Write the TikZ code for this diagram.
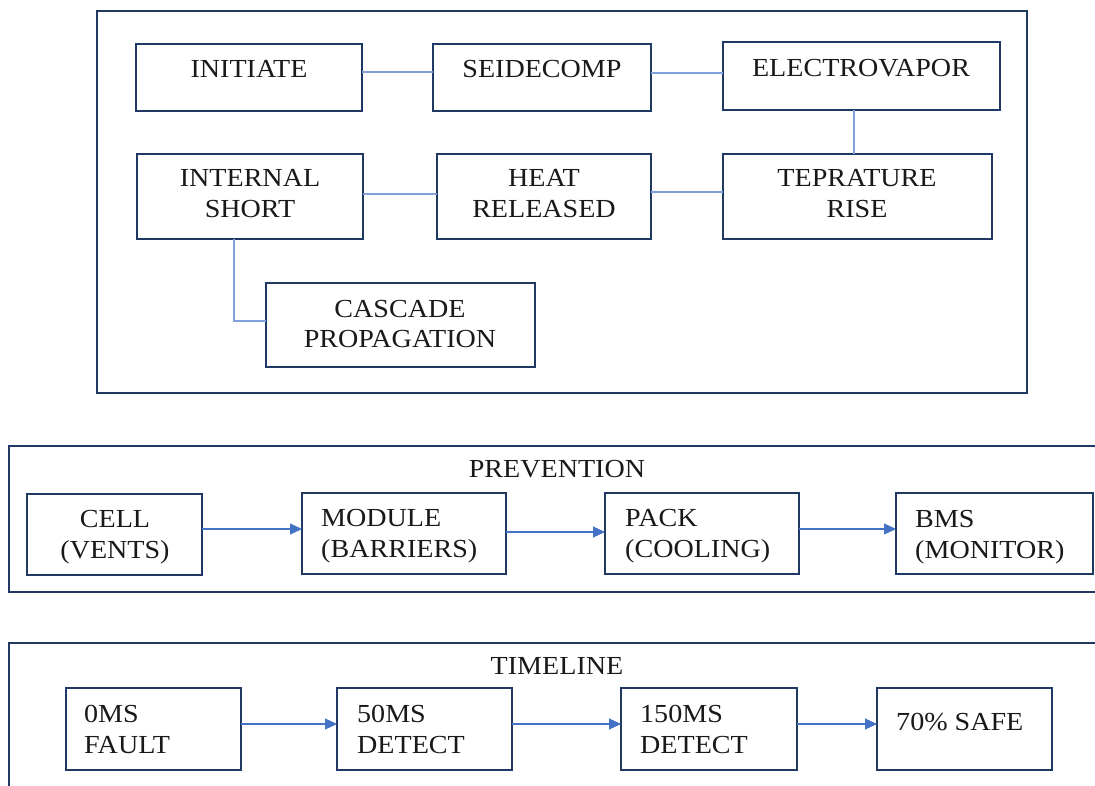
\documentclass[tikz,border=0pt]{standalone}
\usepackage{fontspec}
\setmainfont{Liberation Serif}[FakeStretch=1.08]
\usetikzlibrary{arrows.meta}
\definecolor{navy}{HTML}{1F3864}
\definecolor{link}{HTML}{4472C4}
\definecolor{linklt}{HTML}{7FA0DC}
\tikzset{
 box/.style={draw=navy, line width=2.8pt, rectangle, inner sep=0pt, outer sep=0pt},
 frame/.style={draw=navy, line width=2.8pt},
 txt/.style={font=\fontsize{26}{31}\selectfont, inner sep=0pt, text=black!90},
 conn/.style={draw=linklt, line width=1.2pt},
 arr/.style={draw=link, line width=1.2pt, -{Triangle[length=12pt,width=11pt]}},
}
\newcommand\bx[5]{\node[box, minimum width={#4-#2}, minimum height={#5-#3}] (#1) at ({(#2+#4)/2},{(#3+#5)/2}) {};}
\begin{document}
\begin{tikzpicture}[x=1pt,y=-1pt]
\fill[white] (0,0) rectangle (1095,786);
\useasboundingbox (0,0) rectangle (1095,786);
% top group
\bx{top}{97}{11}{1027}{393}
\bx{ini}{136}{44}{362}{111}
\bx{sei}{433}{44}{651}{111}
\bx{ele}{723}{42}{1000}{110}
\bx{int}{137}{154}{363}{239}
\bx{heat}{437}{154}{651}{239}
\bx{tep}{723}{154}{992}{239}
\bx{cas}{266}{283}{535}{367}
\node[txt, anchor=base] (iniT) at (249,78) {INITIATE};
\node[txt, anchor=base] (seiT) at (542,78) {SEIDECOMP};
\node[txt, anchor=base] (eleT) at (861,77) {ELECTROVAPOR};
\node[txt, anchor=base, align=center] (intT) at (250,218) {INTERNAL\\SHORT};
\node[txt, anchor=base, align=center] (heatT) at (544,218) {HEAT\\RELEASED};
\node[txt, anchor=base, align=center] (tepT) at (857,218) {TEPRATURE\\RISE};
\node[txt, anchor=base, align=center] (casT) at (400,348) {CASCADE\\PROPAGATION};
\draw[conn] (ini.east |- 0,72) -- (sei.west |- 0,72);
\draw[conn] (sei.east |- 0,73) -- (ele.west |- 0,73);
\draw[conn] (ele.south -| 854,0) -- (tep.north -| 854,0);
\draw[conn] (int.east |- 0,194) -- (heat.west |- 0,194);
\draw[conn] (heat.east |- 0,192) -- (tep.west |- 0,192);
\draw[conn] (int.south -| 234,0) |- (cas.west |- 0,321);
% prevention
\draw[frame] (1096,446) -- (9,446) -- (9,592) -- (1096,592);
\node[txt, anchor=base] (prevT) at (557,477) {PREVENTION};
\bx{cell}{27}{494}{202}{575}
\bx{mod}{302}{493}{506}{574}
\bx{pack}{605}{493}{799}{574}
\bx{bms}{896}{493}{1093}{574}
\node[txt, anchor=base, align=center] (cellT) at (115,558) {CELL\\(VENTS)};
\node[txt, anchor=base west, align=left] (modT) at (321,557) {MODULE\\(BARRIERS)};
\node[txt, anchor=base west, align=left] (packT) at (625,557) {PACK\\(COOLING)};
\node[txt, anchor=base west, align=left] (bmsT) at (915,558) {BMS\\(MONITOR)};
\draw[arr] (cell.east |- 0,529) -- (mod.west |- 0,529);
\draw[arr] (mod.east |- 0,532) -- (pack.west |- 0,532);
\draw[arr] (pack.east |- 0,529) -- (bms.west |- 0,529);
% timeline
\draw[frame] (1096,643) -- (9,643) -- (9,790);
\node[txt, anchor=base] (timeT) at (557,674) {TIMELINE};
\bx{t0}{66}{688}{241}{770}
\bx{t50}{337}{688}{512}{770}
\bx{t150}{621}{688}{797}{770}
\bx{tsafe}{877}{688}{1052}{770}
\node[txt, anchor=base west, align=left] (t0T) at (84,753) {0MS\\FAULT};
\node[txt, anchor=base west, align=left] (t50T) at (357,753) {50MS\\DETECT};
\node[txt, anchor=base west, align=left] (t150T) at (640,753) {150MS\\DETECT};
\node[txt, anchor=base west] (tsafeT) at (896,730) {70\% SAFE};
\draw[arr] (t0.east |- 0,724) -- (t50.west |- 0,724);
\draw[arr] (t50.east |- 0,724) -- (t150.west |- 0,724);
\draw[arr] (t150.east |- 0,724) -- (tsafe.west |- 0,724);
\end{tikzpicture}
\end{document}
